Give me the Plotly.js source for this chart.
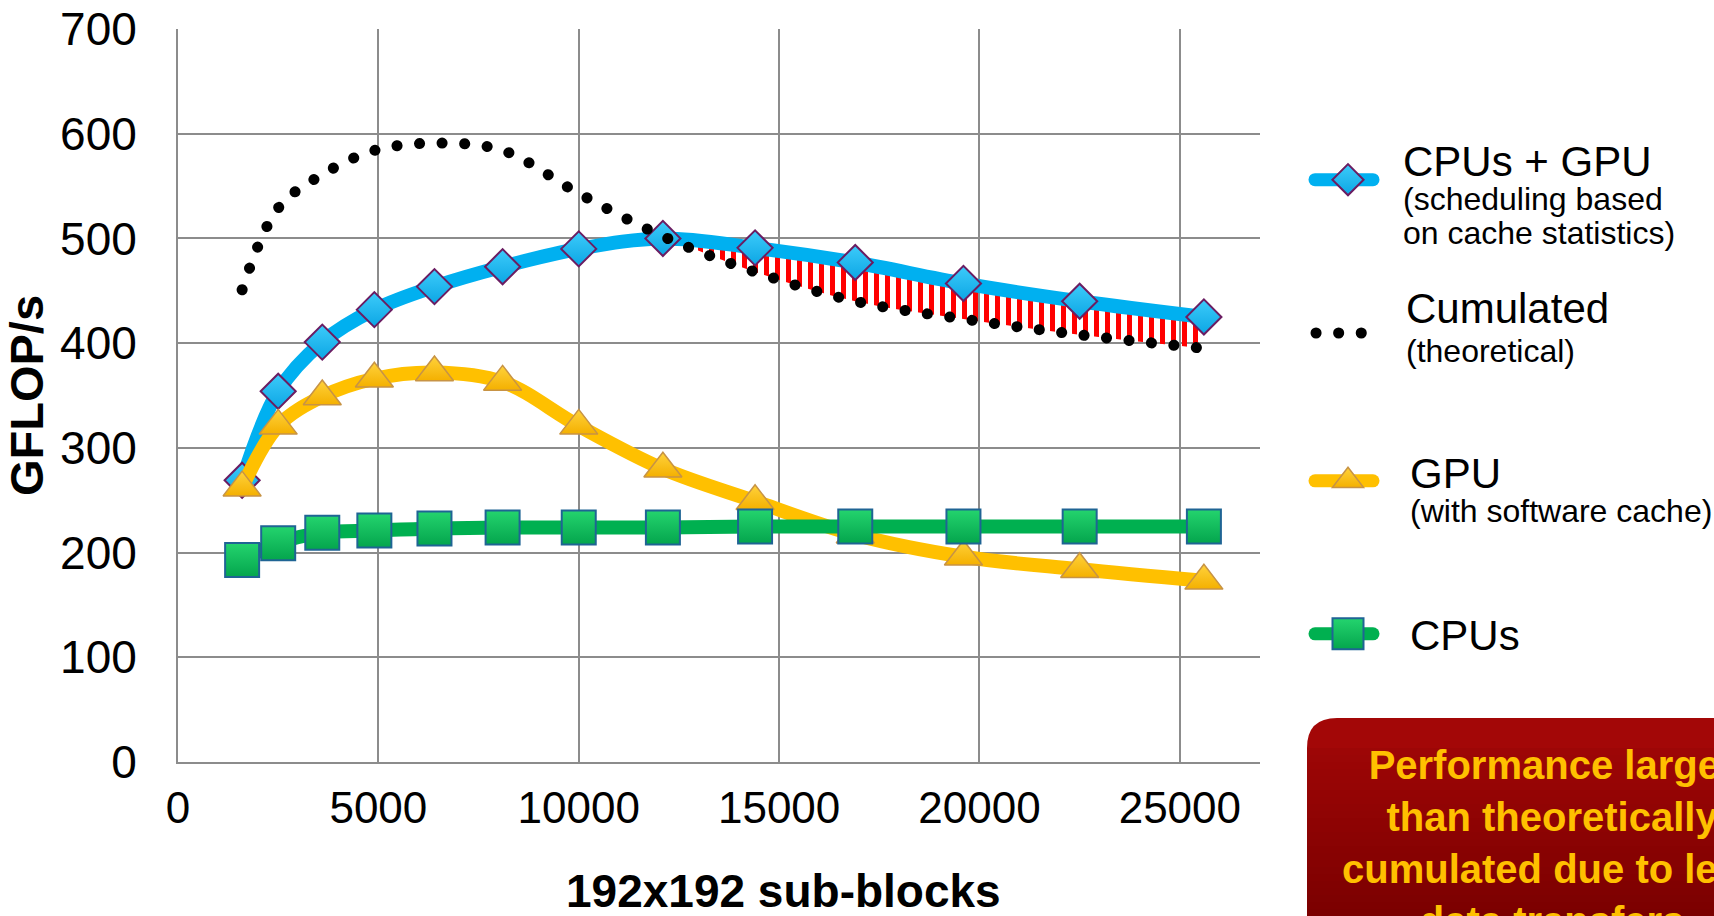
<!DOCTYPE html>
<html>
<head>
<meta charset="utf-8">
<script src="https://cdn.plot.ly/plotly-3.0.1.min.js"></script>
<style>
html, body { margin: 0; padding: 0; background: #ffffff; }
#chart .js-line { stroke-linecap: round; }
</style>
</head>
<body>
<div id="chart" style="width:1714px;height:916px;"></div>
<script>
// ---- data ----
const blockCounts     = [1600, 2500, 3600, 4900, 6400, 8100, 10000, 12100, 14400, 16900, 19600, 22500, 25600];
const cpusGpuGflops   = [269, 354, 401, 432, 454, 473, 490, 500, 491, 477, 457, 440, 425];
const cumulatedGflops = [451, 529, 561, 584, 591, 584, 543, 502, 468, 440, 423, 408, 395];
const gpuGflops       = [262, 321, 349, 366, 372, 363, 321, 280, 249, 217, 196, 184, 173];
const cpusGflops      = [193, 209, 219, 221, 223, 224, 224, 224, 225, 225, 225, 225, 225];
const xTickValues = [0, 5000, 10000, 15000, 20000, 25000];
const yTickValues = [0, 100, 200, 300, 400, 500, 600, 700];
const gainFromBlocks = 12100;   // first point of the shaded "gain" region

const seriesNames = {
  cpusGpu: "<span style='font-size:42px'>CPUs + GPU</span><br><span style='font-size:32px'>(scheduling based</span><br><span style='font-size:32px'>on cache statistics)</span>",
  cumulated: "<span style='font-size:42px'>Cumulated</span><br><span style='font-size:32px'>(theoretical)</span>",
  gpu: "<span style='font-size:42px'>GPU</span><br><span style='font-size:32px'>(with software cache)</span>",
  cpus: "CPUs"
};
const xTitle = '192x192 sub-blocks';
const yTitle = 'GFLOP/s';
const noteText = 'Performance larger<br>than theoretically<br>cumulated due to less<br>data transfers';

// ---- styling ----
const FONT = 'Liberation Sans, Arial, Helvetica, sans-serif';
const GRID = '#8c8c8c';
const BLUE = '#00B0F0', GOLD = '#FFC000', GREEN = '#00B050';

const gainIdx = blockCounts.map((x, i) => i).filter(i => blockCounts[i] >= gainFromBlocks);

const traces = [
  { // lower edge of the gain region
    x: gainIdx.map(i => blockCounts[i]), y: gainIdx.map(i => cumulatedGflops[i]),
    type: 'scatter', mode: 'lines', line: {width: 0, shape: 'spline', color: 'rgba(0,0,0,0)'},
    showlegend: false, hoverinfo: 'skip'
  },
  { // gain hatch
    x: gainIdx.map(i => blockCounts[i]), y: gainIdx.map(i => cpusGpuGflops[i]),
    type: 'scatter', mode: 'lines', line: {width: 0, shape: 'spline', color: 'rgba(0,0,0,0)'},
    fill: 'tonexty', fillcolor: 'rgba(255,0,0,0)',
    fillpattern: {shape: '|', fgcolor: '#FF0000', bgcolor: 'rgba(0,0,0,0)', size: 11, solidity: 0.45, fillmode: 'replace'},
    showlegend: false, hoverinfo: 'skip'
  },
  {
    name: seriesNames.cpusGpu, legend: 'legend',
    x: blockCounts, y: cpusGpuGflops, type: 'scatter', mode: 'lines+markers',
    line: {color: BLUE, width: 14, shape: 'spline'},
    marker: {symbol: 'diamond', size: 27, color: '#3DCBFA', gradient: {type: 'vertical', color: '#0CA6E4'},
             line: {color: '#6B1D62', width: 2}}
  },
  {
    name: seriesNames.gpu, legend: 'legend3',
    x: blockCounts, y: gpuGflops, type: 'scatter', mode: 'lines+markers',
    line: {color: GOLD, width: 14, shape: 'spline'},
    marker: {symbol: 'triangle-up', size: 33, color: '#FFD23C', gradient: {type: 'vertical', color: '#F4B000'},
             line: {color: '#C79345', width: 1.5}}
  },
  {
    name: seriesNames.cpus, legend: 'legend4',
    x: blockCounts, y: cpusGflops, type: 'scatter', mode: 'lines+markers',
    line: {color: GREEN, width: 14, shape: 'spline'},
    marker: {symbol: 'square', size: 34, color: '#24D46E', gradient: {type: 'vertical', color: '#04A54D'},
             line: {color: '#1F6494', width: 2}}
  },
  {
    name: seriesNames.cumulated, legend: 'legend2',
    x: blockCounts, y: cumulatedGflops, type: 'scatter', mode: 'lines',
    line: {color: '#000000', width: 11, shape: 'spline', dash: '0.1px,22.5px'}
  }
];

// legend sample look (by trace index): symbol scale vs. Plotly's 16px legend cap,
// sample line, extra text indent (dx) and symbol lift relative to the text block (dy)
const legendTweaks = {
  2: {scale: 24 / 16, mlw: 2,   lw: 13, path: 'M11,0h58', dx: 19, dy: 20},
  3: {scale: 27 / 16, mlw: 1.5, lw: 13, path: 'M11,0h58', dx: 26, dy: 14},
  4: {scale: 31 / 16, mlw: 2,   lw: 13, path: 'M11,0h58', dx: 26, dy: 0},
  5: {scale: 1,       mlw: 0,   lw: 11, path: 'M12,0h46', dx: 22, dy: -2}
};
const legendSymbolCenter = 44;

// plot area in pixels: left 178, top 29, width 1082, height 733
const PL = 178, PT = 29, PW = 1082, PH = 733;
const px2x = p => (p - PL) / PW;
const px2y = p => (PT + PH - p) / PH;

function legendAt(symbolY, tw, fontSize) {
  return {
    bgcolor: 'rgba(0,0,0,0)', borderwidth: 0,
    font: {family: FONT, size: fontSize, color: '#000000'},
    xanchor: 'left', yanchor: 'middle', itemwidth: 70 + tw.dx, valign: 'middle',
    x: px2x(1304), y: px2y(symbolY + tw.dy),
    itemclick: false, itemdoubleclick: false
  };
}

// red note box (rounded top-left corner) with a vertical gradient made of strips
const boxL = px2x(1307), boxT = px2y(718), boxR = px2x(1800), boxB = px2y(1000);
const rx = 30 / PW, ry = 30 / PH;
const shapes = [{
  type: 'path', xref: 'paper', yref: 'paper', layer: 'above',
  path: `M ${boxL},${boxB} L ${boxL},${boxT - ry} Q ${boxL},${boxT} ${boxL + rx},${boxT} L ${boxR},${boxT} L ${boxR},${boxB} Z`,
  fillcolor: '#A30707', line: {width: 0}
}];
const c0 = [163, 7, 7], c1 = [122, 0, 0];
const stripTop = 748, stripBottom = 916, nStrips = 24;
for (let k = 0; k < nStrips; k++) {
  const a = stripTop + (stripBottom - stripTop) * k / nStrips;
  const b = stripTop + (stripBottom - stripTop) * (k + 1) / nStrips + (k === nStrips - 1 ? 80 : 0.6);
  const col = c0.map((v, j) => Math.round(v + (c1[j] - v) * ((a - 718) / (stripBottom - 718))));
  shapes.push({
    type: 'rect', xref: 'paper', yref: 'paper', layer: 'above',
    x0: boxL, x1: boxR, y0: px2y(b), y1: px2y(a),
    fillcolor: `rgb(${col[0]},${col[1]},${col[2]})`, line: {width: 0}
  });
}

const layout = {
  width: 1714, height: 916,
  paper_bgcolor: '#ffffff', plot_bgcolor: '#ffffff',
  margin: {l: 178, r: 454, t: 29, b: 154, pad: 0, autoexpand: false},
  font: {family: FONT, color: '#000000'},
  xaxis: {
    range: [0, 27000], tickmode: 'array', tickvals: xTickValues,
    ticktext: xTickValues.map(String),
    showgrid: true, gridcolor: GRID, gridwidth: 2,
    showline: true, linecolor: GRID, linewidth: 2, zeroline: false,
    ticks: 'outside', ticklen: 6, tickcolor: 'rgba(0,0,0,0)',
    tickfont: {family: FONT, size: 44, color: '#000000'},
    automargin: false, fixedrange: true
  },
  yaxis: {
    range: [0, 700], tickmode: 'array', tickvals: yTickValues,
    ticktext: yTickValues.map(String),
    showgrid: true, gridcolor: GRID, gridwidth: 2,
    showline: true, linecolor: GRID, linewidth: 2, zeroline: false,
    ticks: 'outside', ticklen: 30, tickcolor: 'rgba(0,0,0,0)',
    tickfont: {family: FONT, size: 46, color: '#000000'},
    title: {text: yTitle, font: {family: FONT, size: 47, weight: 'bold', color: '#000000'}, standoff: 10},
    automargin: false, fixedrange: true
  },
  legend:  legendAt(180, legendTweaks[2], 26),
  legend2: legendAt(333, legendTweaks[5], 30),
  legend3: legendAt(481, legendTweaks[3], 26),
  legend4: legendAt(634, legendTweaks[4], 42),
  shapes: shapes,
  annotations: [
    { // x-axis title (placed as in the reference, right of the axis centre)
      xref: 'paper', yref: 'paper', x: px2x(783), y: px2y(891),
      xanchor: 'center', yanchor: 'middle', showarrow: false,
      text: xTitle,
      font: {family: FONT, size: 46, weight: 'bold', color: '#000000'}
    },
    {
      xref: 'paper', yref: 'paper', x: px2x(1552), y: px2y(741),
      xanchor: 'center', yanchor: 'top', showarrow: false, align: 'center',
      text: noteText,
      font: {family: FONT, size: 40, weight: 'bold', color: '#FFC000'}
    }
  ],
  hovermode: false
};

function tweakLegends(gd) {
  gd.querySelectorAll('g.traces').forEach(g => {
    const d = g.__data__;
    const tr = d && d[0] && d[0].trace;
    if (!tr) return;
    const tw = legendTweaks[tr.index];
    if (!tw) return;
    const layers = g.querySelector('g.layers');
    if (layers) layers.setAttribute('transform', `translate(0,${-tw.dy})`);
    g.querySelectorAll('.legendlines path').forEach(p => {
      p.setAttribute('d', tw.path);
      p.style.strokeWidth = tw.lw + 'px';
    });
    g.querySelectorAll('.legendpoints path.scatterpts').forEach(p => {
      p.setAttribute('transform', `translate(${legendSymbolCenter},0) scale(${tw.scale})`);
      p.style.strokeWidth = (tw.mlw / tw.scale) + 'px';
    });
  });
}

Plotly.newPlot('chart', traces, layout, {displayModeBar: false, staticPlot: true}).then(gd => {
  tweakLegends(gd);
  gd.on('plotly_afterplot', () => tweakLegends(gd));
});
</script>
</body>
</html>
